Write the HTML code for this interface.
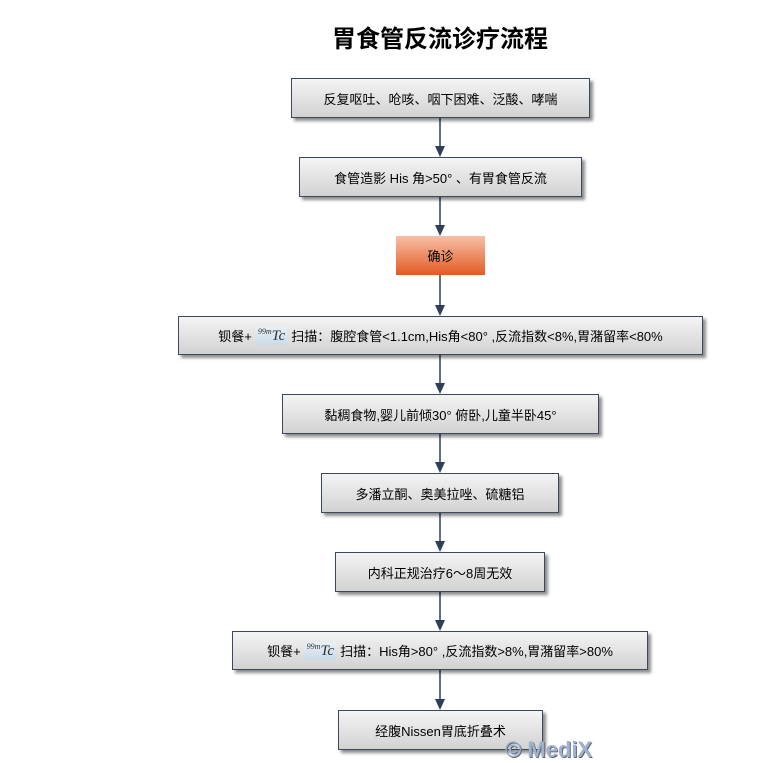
<!DOCTYPE html>
<html><head><meta charset="utf-8"><style>
body{margin:0;width:761px;height:761px;background:#fff;position:relative;overflow:hidden;font-family:"Liberation Sans","Noto Sans CJK SC",sans-serif}
.t{position:absolute;left:0;width:880px;top:21px;text-align:center;font-size:24px;font-weight:bold;color:#000;font-family:"Noto Sans CJK SC",sans-serif;line-height:32px}
.b{position:absolute;box-sizing:border-box;border:1px solid #3a4a5c;background:linear-gradient(to bottom,#f4f4f4,#d2d2d2);box-shadow:3px 3px 3px rgba(0,0,0,.45);display:flex;align-items:center;justify-content:center;font-size:13px;color:#000;white-space:nowrap;z-index:2}
.o{border:none;background:linear-gradient(to bottom,#f7c0a8,#e25a22);box-shadow:none}
.tc{display:inline-block;background:linear-gradient(#e8f0f8,#c9dbe8);font-family:"Liberation Serif",serif;font-style:italic;font-size:15px;padding:0 2px;margin:0 4px;color:#333}
.tc sup{font-size:8px}
.wm{position:absolute;left:505px;top:737px;font-size:22px;font-weight:bold;color:#9fb4cc;font-family:"Liberation Sans",sans-serif;text-shadow:1px 1px 0 #667;z-index:3}
svg{z-index:1}
</style></head><body>
<div class="t">胃食管反流诊疗流程</div>
<svg width="761" height="761" style="position:absolute;left:0;top:0">
<g stroke="#2e4057" stroke-width="1.5">
<line x1="440" y1="118" x2="440" y2="148"/>
<line x1="440" y1="197" x2="440" y2="227"/>
<line x1="440" y1="275" x2="440" y2="307"/>
<line x1="440" y1="355" x2="440" y2="385"/>
<line x1="440" y1="434" x2="440" y2="464"/>
<line x1="440" y1="513" x2="440" y2="543"/>
<line x1="440" y1="592" x2="440" y2="622"/>
<line x1="440" y1="670" x2="440" y2="701"/>
</g>
<g fill="#2e4057">
<path d="M435,146 L445,146 L440,157z"/>
<path d="M435,225 L445,225 L440,236z"/>
<path d="M435,305 L445,305 L440,316z"/>
<path d="M435,383 L445,383 L440,394z"/>
<path d="M435,462 L445,462 L440,473z"/>
<path d="M435,541 L445,541 L440,552z"/>
<path d="M435,620 L445,620 L440,631z"/>
<path d="M435,699 L445,699 L440,710z"/>
</g></svg>
<div class="b" style="left:291px;top:78px;width:299px;height:40px">反复呕吐、呛咳、咽下困难、泛酸、哮喘</div>
<div class="b" style="left:299px;top:157px;width:283px;height:40px">食管造影 His 角&gt;50° 、有胃食管反流</div>
<div class="b o" style="left:396px;top:236px;width:89px;height:39px">确诊</div>
<div class="b" style="left:178px;top:316px;width:525px;height:39px">钡餐+<span class="tc"><sup>99m</sup>Tc</span>扫描：腹腔食管&lt;1.1cm,His角&lt;80° ,反流指数&lt;8%,胃潴留率&lt;80%</div>
<div class="b" style="left:282px;top:394px;width:317px;height:40px">黏稠食物,婴儿前倾30° 俯卧,儿童半卧45°</div>
<div class="b" style="left:321px;top:473px;width:238px;height:40px">多潘立酮、奥美拉唑、硫糖铝</div>
<div class="b" style="left:335px;top:552px;width:210px;height:40px">内科正规治疗6～8周无效</div>
<div class="b" style="left:232px;top:631px;width:416px;height:39px">钡餐+<span class="tc"><sup>99m</sup>Tc</span>扫描：His角&gt;80° ,反流指数&gt;8%,胃潴留率&gt;80%</div>
<div class="b" style="left:338px;top:710px;width:205px;height:40px">经腹Nissen胃底折叠术</div>
<div class="wm">© MediX</div>
</body></html>
